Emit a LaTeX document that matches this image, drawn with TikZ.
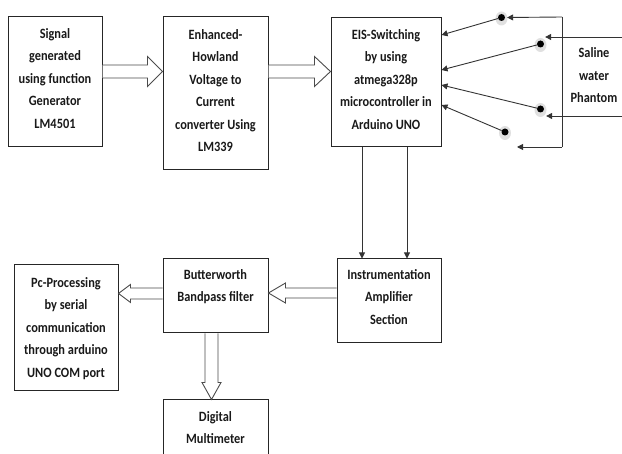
\documentclass[tikz,border=0pt]{standalone}
\usepackage{fontspec}
\newfontfamily\lblfont{Carlito}[FakeStretch=0.87]
\usetikzlibrary{calc,arrows.meta}
\newcommand\hollowH[5]{\draw[hollow] ($(#1)+(0,#3)$) -- ($(#2)+(#5,#3)$) -- ($(#2)+(#5,#4)$) -- (#2) -- ($(#2)+(#5,-#4)$) -- ($(#2)+(#5,-#3)$) -- ($(#1)+(0,-#3)$);}
\newcommand\hollowV[5]{\draw[hollow] ($(#1)+(#3,0)$) -- ($(#2)+(#3,#5)$) -- ($(#2)+(#4,#5)$) -- (#2) -- ($(#2)+(-#4,#5)$) -- ($(#2)+(-#3,#5)$) -- ($(#1)+(-#3,0)$);}
\begin{document}
\begin{tikzpicture}[x=1pt,y=-1pt,
  blk/.style={draw=black!85,line width=1pt,rectangle,inner sep=0pt},
  txt/.style={anchor=base,inner sep=0pt,text=black!90,font=\lblfont\bfseries\fontsize{14.2}{22.5}\selectfont},
  hollow/.style={draw=black!70,line width=0.9pt,fill=white},
  thin/.style={draw=black!80,line width=0.9pt},
  tip/.style={-{Triangle[length=6pt,width=6pt]}},
  contact/.style={circle,fill=black,inner sep=0pt,minimum size=7pt},
  halo/.style={fill=black!12}]
\useasboundingbox (0,0) rectangle (622,454);
\clip (0,0) rectangle (622,454);
% boxes
\node[blk,minimum width=94pt,minimum height=130pt] (b1) at (55,82) {};
\node[blk,minimum width=105pt,minimum height=153pt] (b2) at (215.5,93.5) {};
\node[blk,minimum width=110pt,minimum height=129pt] (b3) at (386,82.5) {};
\node[blk,minimum width=104pt,minimum height=84pt] (b4) at (389,301) {};
\node[blk,minimum width=105pt,minimum height=74pt] (b5) at (215.5,296) {};
\node[blk,minimum width=104pt,minimum height=126pt] (b6) at (66,328) {};
\node[blk,minimum width=105pt,minimum height=80pt] (b7) at (215.5,440) {};
% texts
\node[txt] (t1) at ([yshift=-22pt]b1.north) {\begin{tabular}[t]{@{}c@{}}Signal\\generated\\using function\\Generator\\LM4501\end{tabular}};
\node[txt] (t2) at ([yshift=-23pt]b2.north) {\begin{tabular}[t]{@{}c@{}}Enhanced-\\Howland\\Voltage to\\Current\\converter Using\\LM339\end{tabular}};
\node[txt] (t3) at ([yshift=-22pt]b3.north) {\begin{tabular}[t]{@{}c@{}}EIS-Switching\\by using\\atmega328p\\microcontroller in\\Arduino UNO\end{tabular}};
\node[txt] (t4) at ([yshift=-21pt]b4.north) {\begin{tabular}[t]{@{}c@{}}Instrumentation\\Amplifier\\Section\end{tabular}};
\node[txt] (t5) at ([yshift=-21pt]b5.north) {\begin{tabular}[t]{@{}c@{}}Butterworth\\Bandpass filter\end{tabular}};
\node[txt] (t6) at ([yshift=-23pt]b6.north) {\begin{tabular}[t]{@{}c@{}}Pc-Processing\\by serial\\communication\\through arduino\\UNO COM port\end{tabular}};
\node[txt] (t7) at ([yshift=-22pt]b7.north) {\begin{tabular}[t]{@{}c@{}}Digital\\Multimeter\end{tabular}};
\node[txt] (t8) at (594,58) {\begin{tabular}[t]{@{}c@{}}Saline\\water\\Phantom\end{tabular}};
% hollow arrows
\coordinate (a1s) at (b1.east |- 0,71.5);
\coordinate (a1e) at (b2.west |- 0,71.5);
\hollowH{a1s}{a1e}{6.5}{15}{-15}
\coordinate (a2s) at (b2.east |- 0,71.5);
\coordinate (a2e) at (b3.west |- 0,71.5);
\hollowH{a2s}{a2e}{6.5}{15}{-16}
\coordinate (a3s) at (b4.west |- 0,293);
\coordinate (a3e) at (b5.east |- 0,293);
\hollowH{a3s}{a3e}{5}{10}{17}
\coordinate (a4s) at (b5.west |- 0,293.5);
\coordinate (a4e) at (b6.east |- 0,293.5);
\hollowH{a4s}{a4e}{5.5}{9}{12}
\coordinate (a5s) at (b5.south -| 211.5,0);
\coordinate (a5e) at (b7.north -| 211.5,0);
\hollowV{a5s}{a5e}{6.5}{9.5}{-17}
% EIS to instrumentation
\draw[thin,tip] (b3.south -| 362,0) -- (b4.north -| 362,0);
\draw[thin,tip] (b3.south -| 407,0) -- (b4.north -| 407,0);
% phantom electrodes
\coordinate (pt) at (562,17);
\coordinate (pb) at (562,147);
\coordinate (r1) at (640,37);
\coordinate (r2) at (640,116);
\draw[thin] (pt) -- (pb);
\foreach \p in {(501.5,18.5),(540.5,45),(540.5,110),(505,133)}
  \fill[halo] \p ellipse (6pt and 7pt);
\node[contact] (d1) at (501.5,17.5) {};
\node[contact] (d2) at (540.5,44) {};
\node[contact] (d3) at (540.5,109) {};
\node[contact] (d4) at (505,132) {};
\draw[thin,tip] (pt) -- ([xshift=2pt]d1.east);
\draw[thin,tip] (r1) -- ([xshift=2pt]d2.north east |- r1);
\draw[thin,tip] (r2) -- ([xshift=3pt]d3.south east |- r2);
\draw[thin,tip] (pb) -- (517,147);
\draw[thin,tip] (d1) -- (b3.east |- 0,35);
\draw[thin,tip] (d2) -- (b3.east |- 0,70);
\draw[thin,tip] (d3) -- (b3.east |- 0,85);
\draw[thin,tip] (d4) -- (b3.east |- 0,105);
\end{tikzpicture}
\end{document}
